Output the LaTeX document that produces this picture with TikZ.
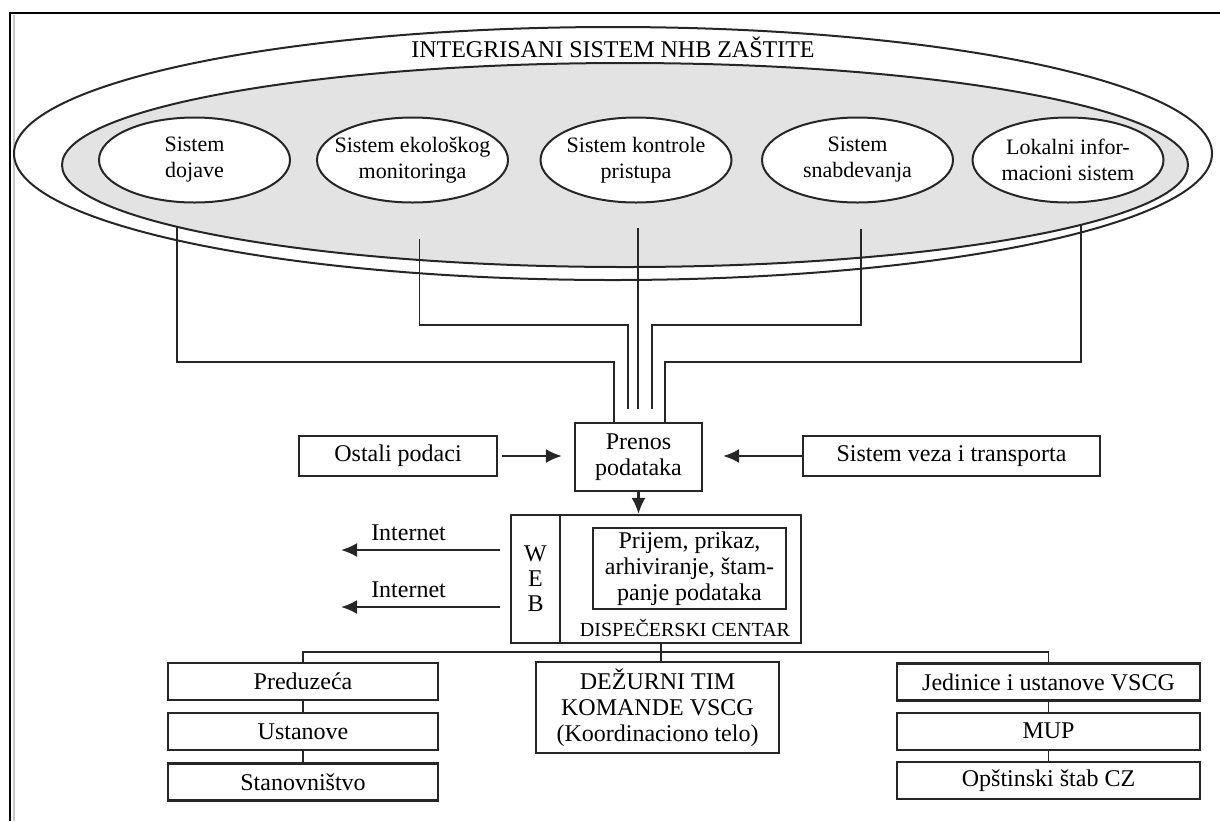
\documentclass[tikz,border=0pt]{standalone}
\usepackage{fontspec}
\setmainfont{Liberation Serif}
\usetikzlibrary{
positioning,%
arrows.meta,%
shapes.geometric
}
\tikzset{
    sysring/.style={draw=black!85, ellipse, line width=1pt, inner sep=0pt},
    sysell/.style={draw=black!85, ellipse, fill=white, line width=1pt, inner sep=0pt,
        minimum width=95.5pt, minimum height=42.5pt},
    elllbl/.style={align=center, font=\fontsize{11}{13}\selectfont},
    databox/.style={draw=black!85, rectangle, line width=1.1pt, inner sep=0pt, align=center},
    stackbox/.style={databox, minimum height=18.5pt},
    wire/.style={draw=black!85, line width=0.9pt},
    dataflow/.style={-{Latex[length=8pt,width=7pt]}, draw=black!85, line width=1.1pt}
}

\begin{document}
\begin{tikzpicture}[x=0.5pt, y=-0.5pt, font=\fontsize{12}{13}\selectfont]
    \useasboundingbox (0,0) rectangle (1220,821);
    % okvir
    \draw[line width=1.1pt] (1220,13) -- (10,13) -- (10,821);
    \draw[gray!45, line width=1pt] (13.5,15) -- (13.5,821);

    % integrisani sistem
    \node[sysring, minimum width=599pt, minimum height=126.5pt] (nhb) at (613,153.5) {};
    \node[sysring, fill=gray!22, minimum width=563pt, minimum height=102pt] (jezgro) at (625,165) {};
    \node (naslov) at (613,47) {INTEGRISANI SISTEM NHB ZAŠTITE};
    \node[sysell, label={[elllbl]center:Sistem\\dojave}] (dojava) at (194.5,160) {};
    \node[sysell, label={[elllbl]center:Sistem ekološkog\\monitoringa}] (monitoring) at (412.5,160) {};
    \node[sysell, label={[elllbl]center:Sistem kontrole\\pristupa}] (pristup) at (636,160) {};
    \node[sysell, label={[elllbl]center:Sistem\\snabdevanja}] (snabdevanje) at (857.5,160) {};
    \node[sysell, label={[elllbl]center:Lokalni infor-\\macioni sistem}] (lis) at (1068,160) {};

    % prenos podataka
    \node[databox, minimum width=63.5pt, minimum height=34pt] (prenos) at (638.5,457) {Prenos\\podataka};
    \node[databox, minimum width=99pt, minimum height=20pt] (ostali) at (398,456) {Ostali podaci};
    \node[databox, minimum width=148.5pt, minimum height=20pt] (veze) at (951.5,456) {Sistem veza i transporta};

    \coordinate (izA) at (177,227);
    \coordinate (izB) at (419.5,239);
    \coordinate (izC) at (638,228);
    \coordinate (izD) at (861,229);
    \coordinate (izE) at (1081,225);
    \coordinate (kolA) at (614,362);
    \coordinate (kolB) at (628,325);
    \coordinate (kolD) at (652,325);
    \coordinate (kolE) at (665,362);
    \draw[wire] (izA) |- (kolA) -- (kolA |- prenos.north);
    \draw[wire] (izB) |- (kolB) -- ++(0,84);
    \draw[wire] (izC) -- ++(0,181);
    \draw[wire] (izD) |- (kolD) -- ++(0,84);
    \draw[wire] (izE) |- (kolE) -- (kolE |- prenos.north);

    \draw[dataflow, shorten <=2pt, shorten >=6pt] (ostali.east) -- (ostali.east -| prenos.west);
    \draw[dataflow, shorten >=10pt] (veze.west) -- (veze.west -| prenos.east);

    % dispecerski centar
    \node[databox, minimum width=145pt, minimum height=64pt] (centar) at (656,579) {};
    \node[databox, anchor=north west, minimum width=24.5pt, minimum height=64pt,
        font=\fontsize{12}{12.5}\selectfont] (web) at (centar.north west) {W\\E\\B};
    \node[databox, minimum width=96.5pt, minimum height=40.5pt] (obrada) at (689.5,568.5)
        {Prijem, prikaz,\\arhiviranje, štam-\\panje podataka};
    \node[font=\fontsize{10}{12}\selectfont] (dclbl) at (685,628) {DISPEČERSKI CENTAR};
    \draw[dataflow] (prenos.south) -- (prenos.south |- centar.north);

    \coordinate (net1) at (341,550);
    \coordinate (net2) at (341,607);
    \draw[dataflow, shorten <=5pt] (centar.west |- net1) -- node[above=1pt, pos=0.6] (inet1) {Internet} (net1);
    \draw[dataflow, shorten <=5pt] (centar.west |- net2) -- node[above=1pt, pos=0.6] (inet2) {Internet} (net2);

    % korisnici
    \node[databox, minimum width=121.5pt, minimum height=45.5pt] (dezurni) at (657.5,707.5)
        {DEŽURNI TIM\\KOMANDE VSCG\\(Koordinaciono telo)};
    \node[stackbox, minimum width=135pt] (preduzeca) at (303,681.5) {Preduzeća};
    \node[stackbox, minimum width=135pt, below=5.5pt of preduzeca] (ustanove) {Ustanove};
    \node[stackbox, minimum width=135pt, below=5.5pt of ustanove] (stanovnistvo) {Stanovništvo};
    \node[stackbox, minimum width=151.5pt] (jedinice) at (1048.5,682) {Jedinice i ustanove VSCG};
    \node[stackbox, minimum width=151.5pt, below=5pt of jedinice] (mup) {MUP};
    \node[stackbox, minimum width=151.5pt, below=5pt of mup] (stab) {Opštinski štab CZ};

    \coordinate (razvod) at (661,652);
    \draw[wire] (centar.south -| razvod) -- (dezurni.north -| razvod);
    \draw[wire] (preduzeca.north) |- (razvod) -| (jedinice.north);
    \draw[wire] (preduzeca) -- (ustanove);
    \draw[wire] (ustanove) -- (stanovnistvo);
    \draw[wire] (jedinice) -- (mup);
    \draw[wire] (mup) -- (stab);
\end{tikzpicture}
\end{document}
